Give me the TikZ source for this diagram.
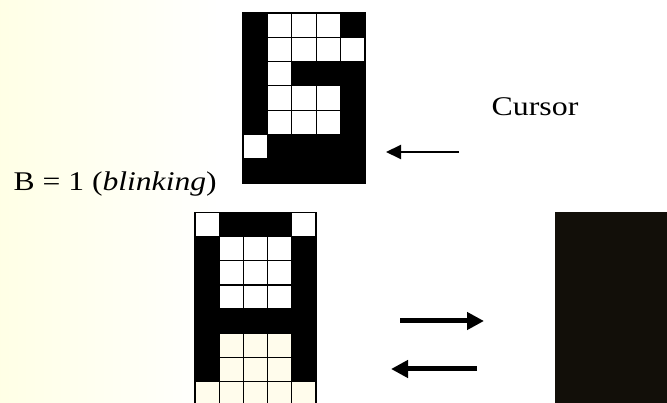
\documentclass[tikz,border=0pt]{standalone}
\usepackage{fontspec}
\setmainfont{Liberation Serif}
\usetikzlibrary{arrows.meta}
\definecolor{darkpanel}{RGB}{18,15,9}
\definecolor{creamcell}{RGB}{255,252,236}
\begin{document}
\begin{tikzpicture}[x=1pt,y=-1pt,
  cellw/.style={fill=white,draw=black,line width=1.2pt},
  lbl/.style={font=\fontsize{27}{30}\selectfont,anchor=base west,inner sep=0pt},
  thinarrow/.style={-{Triangle[length=15pt,width=14pt]},line width=2pt},
  thickarrow/.style={-{Triangle[length=17pt,width=17pt]},line width=5pt}]
\useasboundingbox (0,0) rectangle (667,403);
% faint background tint
\shade[left color=yellow!10,right color=white,draw=none] (0,0) rectangle (220,403);
% top grid (cursor character)
\def\tw{24.4}\def\th{24.3}
\fill[black] (243,13) rectangle (365,183);
\foreach \c/\r in {1/0,2/0,3/0,1/1,2/1,3/1,4/1,1/2,1/3,2/3,3/3,1/4,2/4,3/4,0/5}
  \draw[cellw] ({243+\c*\tw},{13+\r*\th}) rectangle ++(\tw,\th);
\draw[line width=1.2pt] (243,13) rectangle (365,183);
% bottom grid
\def\bw{24.2}\def\bh{24.1}
\fill[black] (195,212.7) rectangle (316,410);
\foreach \c/\r in {0/0,4/0,1/1,2/1,3/1,1/2,2/2,3/2,1/3,2/3,3/3}
  \draw[cellw] ({195+\c*\bw},{212.7+\r*\bh}) rectangle ++(\bw,\bh);
\foreach \c/\r in {1/5,2/5,3/5,1/6,2/6,3/6,0/7,1/7,2/7,3/7,4/7}
  \draw[cellw,fill=creamcell] ({195+\c*\bw},{212.7+\r*\bh}) rectangle ++(\bw,\bh);
\draw[line width=1.2pt] (195,410) -- (195,212.7) -- (316,212.7) -- (316,410);
% right dark panel
\fill[darkpanel] (555,212) rectangle (667,403);
% labels
\node[lbl] (cursor) at (491.5,116) {\scalebox{1.18}[1]{Cursor}};
\node[lbl] (blink) at (13.5,190.5) {\scalebox{1.17}[1]{B = 1 (\textit{blinking})}};
% arrows
\coordinate (c1) at (459,152); \coordinate (c2) at (386,152);
\coordinate (r1) at (400,321); \coordinate (r2) at (484,321);
\coordinate (l1) at (477,369); \coordinate (l2) at (391,369);
\draw[thinarrow] (c1) -- (c2);
\draw[thickarrow] (r1) -- (r2);
\draw[thickarrow] (l1) -- (l2);
\end{tikzpicture}
\end{document}
